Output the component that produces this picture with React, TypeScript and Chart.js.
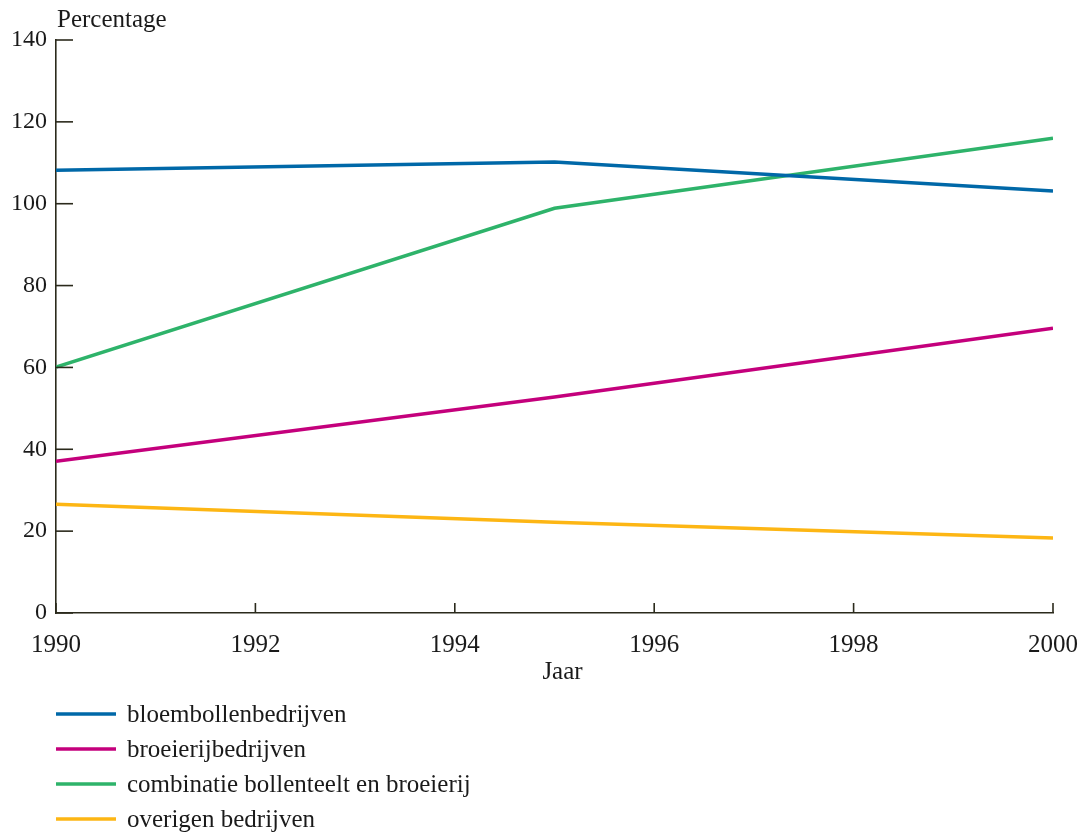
import React, { useEffect, useRef } from "react";
import { Chart, registerables } from "chart.js";

Chart.register(...registerables);

const years = [1990, 1995, 2000];
const bloembollen = [108.2, 110.2, 103.1];
const broeierij = [37.1, 52.8, 69.6];
const combinatie = [60.1, 98.9, 116.0];
const overigen = [26.6, 22.2, 18.3];

const seriesNames = [
  "bloembollenbedrijven",
  "broeierijbedrijven",
  "combinatie bollenteelt en broeierij",
  "overigen bedrijven",
];
const seriesColors = ["#0068a8", "#c4007c", "#2eb36a", "#fdb614"];

const yTitle = "Percentage";
const xTitle = "Jaar";

const FONT = "'Liberation Serif', 'Times New Roman', serif";
const AXIS = "#2b2a1c";

const pts = (vals: number[]) => vals.map((v, i) => ({ x: years[i], y: v }));

const decorPlugin = {
  id: "decor",
  afterDraw(chart: any) {
    const ctx = chart.ctx;
    const xs = chart.scales.x;
    const ys = chart.scales.y;
    const area = chart.chartArea;
    ctx.save();
    ctx.strokeStyle = AXIS;
    ctx.lineWidth = 1.6;
    // inward tick marks
    ys.ticks.forEach((t: any) => {
      const py = ys.getPixelForValue(t.value);
      ctx.beginPath();
      ctx.moveTo(area.left, py);
      ctx.lineTo(area.left + 17, py);
      ctx.stroke();
    });
    xs.ticks.forEach((t: any) => {
      const px = xs.getPixelForValue(t.value);
      ctx.beginPath();
      ctx.moveTo(px, area.bottom);
      ctx.lineTo(px, area.bottom - 10);
      ctx.stroke();
    });
    ctx.fillStyle = "#1a1a1a";
    // y title
    ctx.font = `25px ${FONT}`;
    ctx.textAlign = "left";
    ctx.textBaseline = "alphabetic";
    ctx.fillText(yTitle, area.left + 1, 27);
    // x title
    ctx.textAlign = "center";
    ctx.fillText(xTitle, (area.left + area.right) / 2 + 8, 679);
    // legend
    ctx.textAlign = "left";
    ctx.textBaseline = "middle";
    chart.data.datasets.forEach((ds: any, i: number) => {
      const y = 714 + i * 35;
      ctx.strokeStyle = ds.borderColor;
      ctx.lineWidth = 3.5;
      ctx.beginPath();
      ctx.moveTo(area.left, y);
      ctx.lineTo(area.left + 60, y);
      ctx.stroke();
      ctx.fillStyle = "#1a1a1a";
      ctx.fillText(ds.label, area.left + 71, y + 1);
    });
    ctx.restore();
  },
};

export default function App() {
  const ref = useRef<HTMLCanvasElement>(null);
  useEffect(() => {
    if (!ref.current) return;
    const seriesData = [bloembollen, broeierij, combinatie, overigen];
    const chart = new Chart(ref.current, {
      type: "line",
      data: {
        datasets: seriesData.map((d, i) => ({
          label: seriesNames[i],
          data: pts(d),
          borderColor: seriesColors[i],
          backgroundColor: seriesColors[i],
          borderWidth: 3.5,
          pointRadius: 0,
          tension: 0,
          fill: false,
        })),
      },
      options: {
        responsive: false,
        animation: false,
        layout: { padding: { top: 40, right: 31, left: 0, bottom: 139 } },
        plugins: {
          legend: { display: false },
          tooltip: { enabled: false },
        },
        scales: {
          x: {
            type: "linear",
            min: 1990,
            max: 2000,
            afterFit: (s: any) => {
              s.height = 80;
              s.paddingLeft = 0;
              s.paddingRight = 0;
            },
            ticks: {
              stepSize: 2,
              color: "#1a1a1a",
              font: { family: FONT, size: 25 },
              padding: 17,
              callback: (v: any) => String(v),
              maxRotation: 0,
            },
            grid: { drawOnChartArea: false, drawTicks: false },
            border: { display: true, color: AXIS, width: 1.6 },
          },
          y: {
            min: 0,
            max: 140,
            afterFit: (s: any) => {
              s.width = 56;
              s.paddingTop = 0;
              s.paddingBottom = 0;
            },
            ticks: {
              stepSize: 20,
              color: "#1a1a1a",
              font: { family: FONT, size: 24 },
              padding: 9,
            },
            grid: { drawOnChartArea: false, drawTicks: false },
            border: { display: true, color: AXIS, width: 1.6 },
          },
        },
      },
      plugins: [decorPlugin],
    });
    return () => chart.destroy();
  }, []);
  return (
    <div style={{ position: "absolute", left: 0, top: 0, width: 1084, height: 832, background: "#fff" }}>
      <canvas ref={ref} width={1084} height={832} />
    </div>
  );
}
